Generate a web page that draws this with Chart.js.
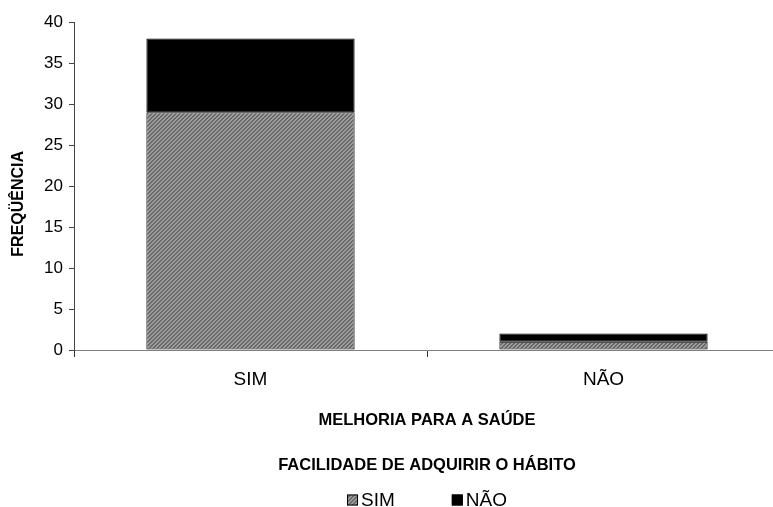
<!DOCTYPE html>
<html lang="pt">
<head>
<meta charset="utf-8">
<title>Melhoria para a saúde</title>
<script src="https://cdn.jsdelivr.net/npm/chart.js@4.4.1/dist/chart.umd.min.js"></script>
<style>
  html, body { margin: 0; padding: 0; background: #fff; overflow: hidden; }
  #wrap { position: relative; width: 780px; height: 507px; }
</style>
</head>
<body>
<div id="wrap"><canvas id="chart"></canvas></div>
<script>
// Categories on the horizontal axis
const categories = ['SIM', 'NÃO'];
// Stacked series: ease of acquiring the habit
const seriesNames = ['SIM', 'NÃO'];
const simValues = [29, 1];
const naoValues = [9, 1];
// Vertical axis range and step
const yTicks = [0, 5, 10, 15, 20, 25, 30, 35, 40];

const xTitle = 'MELHORIA PARA A SAÚDE';
const yTitle = 'FREQÜÊNCIA';
const legendTitle = 'FACILIDADE DE ADQUIRIR O HÁBITO';

const FONT = '"Liberation Sans", Arial, sans-serif';

// Fine diagonal grey hatch used for the "SIM" series
function makeHatch() {
  const c = document.createElement('canvas');
  c.width = 4; c.height = 4;
  const g = c.getContext('2d');
  for (let y = 0; y < 4; y++) {
    for (let x = 0; x < 4; x++) {
      g.fillStyle = ((x + y) % 4 < 2) ? '#6a6a6a' : '#9c9c9c';
      g.fillRect(x, y, 1, 1);
    }
  }
  return g.createPattern(c, 'repeat');
}
const hatch = makeHatch();

// Legend under the axis title, centred on the plot area
const bottomLegend = {
  id: 'bottomLegend',
  afterDraw(chart) {
    const ctx = chart.ctx;
    const area = chart.chartArea;
    const cx = (area.left + area.right) / 2;
    ctx.save();
    ctx.fillStyle = '#000';
    ctx.textBaseline = 'middle';
    ctx.textAlign = 'center';
    ctx.font = 'bold 16.5px ' + FONT;
    ctx.fillText(legendTitle, cx, 465);

    ctx.font = '19px ' + FONT;
    const box = 11, gapText = 3, gapItems = 57;
    const items = chart.data.datasets.map(ds => ({
      text: ds.label, fill: ds.backgroundColor, w: ctx.measureText(ds.label).width
    }));
    let total = 0;
    items.forEach((it, i) => { total += box + gapText + it.w + (i ? gapItems : 0); });
    let x = cx - total / 2;
    const y = 500;
    ctx.textAlign = 'left';
    items.forEach((it, i) => {
      if (i) x += gapItems;
      ctx.fillStyle = it.fill;
      ctx.fillRect(x, y - box / 2, box, box);
      ctx.strokeStyle = '#000';
      ctx.lineWidth = 1;
      ctx.strokeRect(x + 0.5, y - box / 2 + 0.5, box - 1, box - 1);
      ctx.fillStyle = '#000';
      ctx.fillText(it.text, x + box + gapText, y + 1);
      x += box + gapText + it.w;
    });
    ctx.restore();
  }
};

new Chart(document.getElementById('chart'), {
  type: 'bar',
  data: {
    labels: categories,
    datasets: [
      {
        label: seriesNames[0],
        data: simValues,
        backgroundColor: hatch,
        borderColor: '#000',
        borderWidth: 1,
        borderSkipped: false,
        categoryPercentage: 1,
        barPercentage: 0.59
      },
      {
        label: seriesNames[1],
        data: naoValues,
        backgroundColor: '#000',
        borderColor: '#000',
        borderWidth: 1,
        borderSkipped: false,
        categoryPercentage: 1,
        barPercentage: 0.59
      }
    ]
  },
  options: {
    responsive: true,
    maintainAspectRatio: false,
    animation: false,
    events: [],
    layout: { padding: { top: 22, right: 0, bottom: 70, left: 0 } },
    plugins: {
      legend: { display: false },
      tooltip: { enabled: false }
    },
    scales: {
      x: {
        stacked: true,
        afterFit(scale) { scale.height = 87; },
        border: { display: true, color: '#808080', width: 1 },
        grid: {
          display: true,
          offset: true,
          drawOnChartArea: false,
          drawTicks: true,
          tickLength: 7,
          color: '#333'
        },
        ticks: {
          color: '#000',
          padding: 11,
          font: { family: FONT, size: 19 }
        },
        title: {
          display: true,
          text: xTitle,
          color: '#000',
          font: { family: FONT, size: 16.5, weight: 'bold' },
          padding: { top: 0, bottom: 7 }
        }
      },
      y: {
        stacked: true,
        min: yTicks[0],
        max: yTicks[yTicks.length - 1],
        afterFit(scale) { scale.width = 74; },
        afterBuildTicks(scale) { scale.ticks = yTicks.map(v => ({ value: v })); },
        border: { display: true, color: '#444', width: 1 },
        grid: {
          display: true,
          drawOnChartArea: false,
          drawTicks: true,
          tickLength: 5,
          color: '#444'
        },
        ticks: {
          color: '#000',
          padding: 6,
          font: { family: FONT, size: 17 }
        },
        title: {
          display: true,
          // trailing spaces lower the visible text a little along the axis
          text: yTitle + '\u0020'.repeat(8),
          color: '#000',
          font: { family: FONT, size: 16, weight: 'bold' },
          padding: { top: 9, bottom: 0 }
        }
      }
    }
  },
  plugins: [bottomLegend]
});
</script>
</body>
</html>
